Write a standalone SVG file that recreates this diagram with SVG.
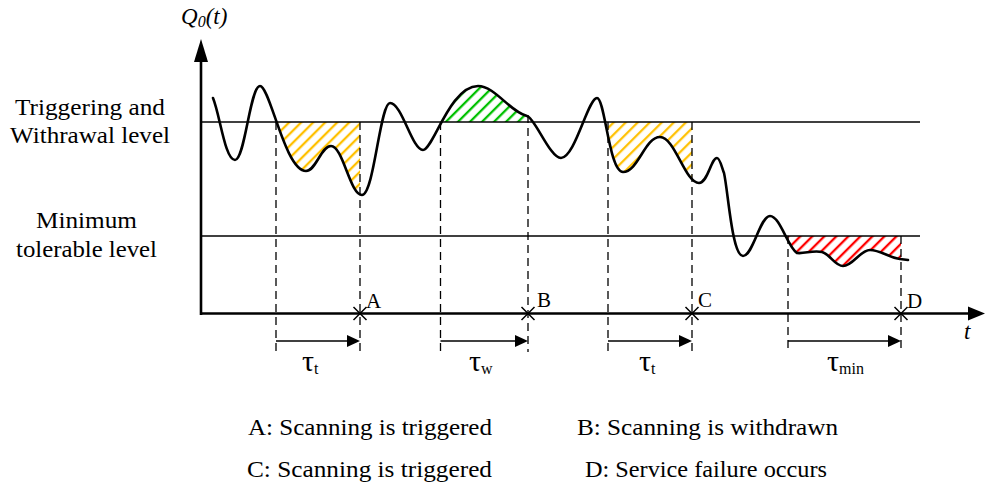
<svg xmlns="http://www.w3.org/2000/svg" width="985" height="487" viewBox="0 0 985 487">
<style>
.t{font-family:"Liberation Serif","Times New Roman",serif;fill:#000}
.ax{stroke:#000;stroke-width:2.6;fill:none}
.lvl{stroke:#000;stroke-width:1.3;fill:none}
.dash{stroke:#000;stroke-width:1.3;stroke-dasharray:8 5;fill:none}
.curve{stroke:#000;stroke-width:2.6;fill:none;stroke-linejoin:round;stroke-linecap:round}
.arr{stroke:#000;stroke-width:1.5;fill:none}
.x{stroke:#000;stroke-width:1.5}
</style>
<defs>
<pattern id="hy" width="8.5" height="8.5" patternUnits="userSpaceOnUse" patternTransform="rotate(45)"><line x1="2" y1="-1" x2="2" y2="10" stroke="#FFC000" stroke-width="2.3"/></pattern>
<pattern id="hg" width="8.5" height="8.5" patternUnits="userSpaceOnUse" patternTransform="rotate(45)"><line x1="2" y1="-1" x2="2" y2="10" stroke="#00C000" stroke-width="2.3"/></pattern>
<pattern id="hr" width="8.5" height="8.5" patternUnits="userSpaceOnUse" patternTransform="rotate(45)"><line x1="2" y1="-1" x2="2" y2="10" stroke="#FF0000" stroke-width="2.3"/></pattern>
<clipPath id="above"><path d="M213 98 C220 115,225 160,235 160 C245 160,250 86,260 86 C270 86,285 171,306 171 C316 171,321 146,331 146 C343 146,350 195,362 195 C374 195,380 103,390 103 C402 103,412 150,423 150 C433 150,450 86,478 86 C495 86,510 112,527 116 C535 118,550 158,561 158 C575 158,588 98,597 98 C605 98,609 172,623 172 C638 172,645 137,660 137 C675 137,685 183,699 183 C708 183,711 158,717 158 C720 158,722 168,724 173 C728 190,732 256,743 256 C753 256,760 216,770 216 C780 216,788 248,797 253 C805 254,812 250,822 252 C830 254,835 266,843 266 C853 266,860 250,870 250 C880 250,890 258,900 259 L908 260 L908 0 L213 0 Z"/></clipPath>
<clipPath id="below"><path d="M213 98 C220 115,225 160,235 160 C245 160,250 86,260 86 C270 86,285 171,306 171 C316 171,321 146,331 146 C343 146,350 195,362 195 C374 195,380 103,390 103 C402 103,412 150,423 150 C433 150,450 86,478 86 C495 86,510 112,527 116 C535 118,550 158,561 158 C575 158,588 98,597 98 C605 98,609 172,623 172 C638 172,645 137,660 137 C675 137,685 183,699 183 C708 183,711 158,717 158 C720 158,722 168,724 173 C728 190,732 256,743 256 C753 256,760 216,770 216 C780 216,788 248,797 253 C805 254,812 250,822 252 C830 254,835 266,843 266 C853 266,860 250,870 250 C880 250,890 258,900 259 L908 260 L908 487 L213 487 Z"/></clipPath>
</defs>

<g id="hatches">
<rect x="276" y="122" width="84" height="90" fill="url(#hy)" clip-path="url(#above)"/>
<rect x="440.5" y="60" width="87.5" height="62" fill="url(#hg)" clip-path="url(#below)"/>
<rect x="608" y="122" width="84" height="70" fill="url(#hy)" clip-path="url(#above)"/>
<rect x="788" y="236" width="113" height="40" fill="url(#hr)" clip-path="url(#above)"/>
</g>

<g id="levels">
<line class="lvl" x1="201" y1="122" x2="920" y2="122"/>
<line class="lvl" x1="201" y1="236" x2="920" y2="236"/>
</g>

<g id="connectors">
<line class="dash" x1="276" y1="122" x2="276" y2="352"/>
<line class="dash" x1="360" y1="122" x2="360" y2="352"/>
<line class="dash" x1="440.5" y1="122" x2="440.5" y2="352"/>
<line class="dash" x1="528" y1="115" x2="528" y2="352"/>
<line class="dash" x1="608" y1="122" x2="608" y2="352"/>
<line class="dash" x1="692" y1="122" x2="692" y2="352"/>
<line class="dash" x1="788" y1="236" x2="788" y2="352"/>
<line class="dash" x1="901" y1="236" x2="901" y2="352"/>
<line class="arr" x1="276" y1="341" x2="350" y2="341"/>
<polygon points="360,341 347,335 347,347" fill="#000"/>
<line class="arr" x1="440.5" y1="341" x2="518" y2="341"/>
<polygon points="528,341 515,335 515,347" fill="#000"/>
<line class="arr" x1="608" y1="341" x2="682" y2="341"/>
<polygon points="692,341 679,335 679,347" fill="#000"/>
<line class="arr" x1="788" y1="341" x2="891" y2="341"/>
<polygon points="901,341 888,335 888,347" fill="#000"/>
</g>

<g id="curve">
<path class="curve" d="M213 98 C220 115,225 160,235 160 C245 160,250 86,260 86 C270 86,285 171,306 171 C316 171,321 146,331 146 C343 146,350 195,362 195 C374 195,380 103,390 103 C402 103,412 150,423 150 C433 150,450 86,478 86 C495 86,510 112,527 116 C535 118,550 158,561 158 C575 158,588 98,597 98 C605 98,609 172,623 172 C638 172,645 137,660 137 C675 137,685 183,699 183 C708 183,711 158,717 158 C720 158,722 168,724 173 C728 190,732 256,743 256 C753 256,760 216,770 216 C780 216,788 248,797 253 C805 254,812 250,822 252 C830 254,835 266,843 266 C853 266,860 250,870 250 C880 250,890 258,900 259 L908 260"/>
</g>

<g id="axes">
<line class="ax" x1="201" y1="315" x2="201" y2="58"/>
<polygon points="201,39 194,62 208,62" fill="#000"/>
<line class="ax" x1="200" y1="313.5" x2="972" y2="313.5"/>
<polygon points="985,313.5 968,306.5 968,320.5" fill="#000"/>
<text class="t" x="181" y="24" font-size="23" font-style="italic">Q<tspan font-size="16" dy="3">0</tspan><tspan font-size="23" dy="-3">(t)</tspan></text>
<text class="t" x="964" y="339" font-size="23" font-style="italic">t</text>
</g>

<g id="marks">
<path class="x" d="M353.5 307 L366.5 320 M353.5 320 L366.5 307"/>
<path class="x" d="M521.5 307 L534.5 320 M521.5 320 L534.5 307"/>
<path class="x" d="M685.5 307 L698.5 320 M685.5 320 L698.5 307"/>
<path class="x" d="M894.5 307 L907.5 320 M894.5 320 L907.5 307"/>
<text class="t" x="366" y="308" font-size="21">A</text>
<text class="t" x="537" y="307" font-size="21">B</text>
<text class="t" x="698" y="307" font-size="21">C</text>
<text class="t" x="907" y="308" font-size="21">D</text>
</g>

<g id="durations">
<text class="t" x="302" y="371" font-size="30">τ<tspan font-size="16" dy="3">t</tspan></text>
<text class="t" x="469" y="371" font-size="30">τ<tspan font-size="16" dy="3">w</tspan></text>
<text class="t" x="639" y="371" font-size="30">τ<tspan font-size="16" dy="3">t</tspan></text>
<text class="t" x="827" y="371" font-size="30">τ<tspan font-size="16" dy="3">min</tspan></text>
</g>

<g id="level-labels">
<text class="t" x="15" y="115" font-size="24" textLength="150" lengthAdjust="spacingAndGlyphs">Triggering and</text>
<text class="t" x="10" y="143" font-size="24" textLength="160" lengthAdjust="spacingAndGlyphs">Withrawal level</text>
<text class="t" x="36" y="228" font-size="24" textLength="101" lengthAdjust="spacingAndGlyphs">Minimum</text>
<text class="t" x="16" y="257" font-size="24" textLength="141" lengthAdjust="spacingAndGlyphs">tolerable level</text>
</g>

<g id="legend">
<text class="t" x="248" y="435" font-size="24" textLength="244" lengthAdjust="spacingAndGlyphs">A: Scanning is triggered</text>
<text class="t" x="577" y="435" font-size="24" textLength="261" lengthAdjust="spacingAndGlyphs">B: Scanning is withdrawn</text>
<text class="t" x="247" y="477" font-size="24" textLength="245" lengthAdjust="spacingAndGlyphs">C: Scanning is triggered</text>
<text class="t" x="585" y="477" font-size="24" textLength="242" lengthAdjust="spacingAndGlyphs">D: Service failure occurs</text>
</g>
</svg>
